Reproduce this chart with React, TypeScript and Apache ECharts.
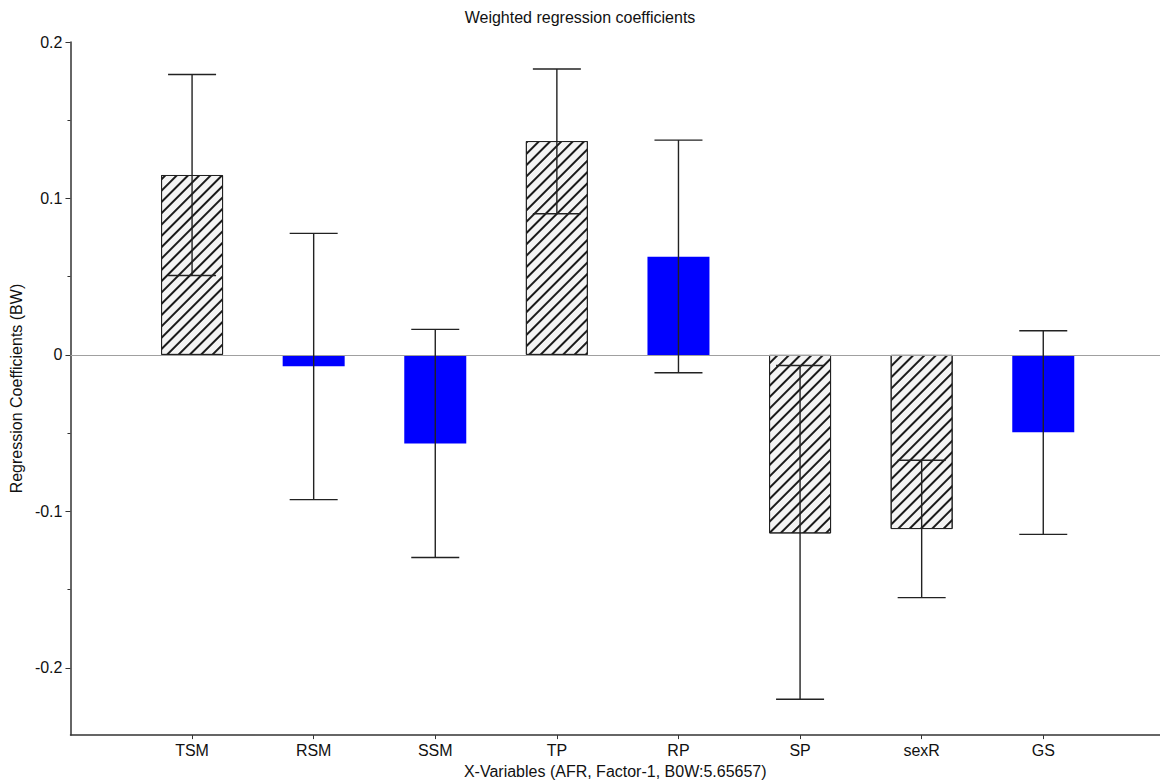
import React, { useEffect, useRef } from 'react';
import * as echarts from 'echarts';

const categories = ['TSM', 'RSM', 'SSM', 'TP', 'RP', 'SP', 'sexR', 'GS'];
const coefficients = [0.115, -0.0072, -0.0567, 0.1367, 0.0627, -0.1141, -0.1113, -0.0495];
const lowerBounds = [0.0508, -0.0925, -0.1295, 0.0902, -0.0114, -0.2201, -0.1551, -0.1147];
const upperBounds = [0.1792, 0.0777, 0.0163, 0.1827, 0.1373, -0.0068, -0.0673, 0.0154];
const hatched = [true, false, false, true, false, true, true, false];
const xTicks = [1, 2, 3, 4, 5, 6, 7, 8];
const yMajorTicks = [-0.2, -0.1, 0, 0.1, 0.2];
const yMinorTicks = [-0.15, -0.05, 0.05, 0.15];

const FONT = 'Liberation Sans, Arial, Helvetica, sans-serif';

export default function App() {
  const ref = useRef<HTMLDivElement>(null);
  useEffect(() => {
    if (!ref.current) return;
    const chart = echarts.init(ref.current, undefined, { renderer: 'svg' });

    const barData = categories.map((_, i) => ({
      value: [xTicks[i], coefficients[i]],
      itemStyle: hatched[i]
        ? {
            color: '#f4f4f4',
            borderColor: '#222',
            borderWidth: 1,
            decal: {
              symbol: 'rect',
              symbolSize: 1,
              symbolKeepAspect: false,
              color: '#1a1a1a',
              backgroundColor: null,
              dashArrayX: [1, 0],
              dashArrayY: [1.4, 5.6],
              rotation: -Math.PI / 4,
            },
          }
        : { color: '#0000ff' },
    }));

    const errData = categories.map((_, i) => [xTicks[i], lowerBounds[i], upperBounds[i]]);

    chart.setOption({
      animation: false,
      backgroundColor: '#ffffff',
      textStyle: { fontFamily: FONT },
      title: {
        text: 'Weighted regression coefficients',
        left: 'center',
        top: 9,
        padding: 0,
        textStyle: { fontFamily: FONT, fontSize: 16, fontWeight: 'normal', color: '#111' },
      },
      grid: { left: 70, right: 0, top: 42, bottom: 46, containLabel: false },
      xAxis: {
        type: 'value',
        min: 0,
        max: 8.96,
        name: 'X-Variables (AFR, Factor-1, B0W:5.65657)',
        nameLocation: 'middle',
        nameGap: 21,
        nameTextStyle: { fontFamily: FONT, fontSize: 16, color: '#111' },
        splitLine: { show: false },
        axisLine: { show: true, onZero: false, lineStyle: { color: '#333', width: 1.5 } },
        axisTick: { show: true, customValues: xTicks, length: 4, lineStyle: { color: '#333', width: 1 } },
        axisLabel: {
          customValues: xTicks,
          margin: 7,
          fontFamily: FONT,
          fontSize: 16,
          color: '#111',
          formatter: (v: number) => categories[Math.round(v) - 1] ?? '',
        },
      },
      yAxis: [
        {
          type: 'value',
          min: -0.243,
          max: 0.2,
          name: 'Regression Coefficients (BW)',
          nameLocation: 'middle',
          nameGap: 35,
          nameTextStyle: { fontFamily: FONT, fontSize: 16, color: '#111' },
          splitLine: { show: false },
          axisLine: { show: true, onZero: false, lineStyle: { color: '#333', width: 1.5 } },
          axisTick: { show: true, customValues: yMajorTicks, length: 5, lineStyle: { color: '#333', width: 1 } },
          axisLabel: {
            customValues: yMajorTicks,
            margin: 8,
            fontFamily: FONT,
            fontSize: 16,
            color: '#111',
            formatter: (v: number) => String(Math.round(v * 10) / 10),
          },
        },
        {
          type: 'value',
          min: -0.243,
          max: 0.2,
          position: 'left',
          splitLine: { show: false },
          axisLine: { show: false },
          axisTick: { show: true, customValues: yMinorTicks, length: 3, lineStyle: { color: '#333', width: 1 } },
          axisLabel: { show: false },
        },
      ],
      series: [
        {
          type: 'bar',
          data: barData,
          barWidth: 62,
          z: 2,
          markLine: {
            silent: true,
            symbol: ['none', 'none'],
            label: { show: false },
            lineStyle: { color: '#a0a0a0', width: 1.2, type: 'solid' },
            data: [{ yAxis: 0 }],
          },
        },
        {
          type: 'custom',
          z: 5,
          data: errData,
          encode: { x: 0, y: [1, 2] },
          renderItem: (params: any, api: any) => {
            const x = api.value(0);
            const lo = api.coord([x, api.value(1)]);
            const hi = api.coord([x, api.value(2)]);
            const half = 24;
            const style = { stroke: '#222', lineWidth: 1.4 };
            return {
              type: 'group',
              children: [
                { type: 'line', shape: { x1: lo[0], y1: lo[1], x2: hi[0], y2: hi[1] }, style },
                { type: 'line', shape: { x1: hi[0] - half, y1: hi[1], x2: hi[0] + half, y2: hi[1] }, style },
                { type: 'line', shape: { x1: lo[0] - half, y1: lo[1], x2: lo[0] + half, y2: lo[1] }, style },
              ],
            };
          },
        },
      ],
    });
    return () => chart.dispose();
  }, []);
  return (
    <div
      ref={ref}
      style={{ position: 'absolute', left: 0, top: 0, width: 1160, height: 784, background: '#fff' }}
    />
  );
}
